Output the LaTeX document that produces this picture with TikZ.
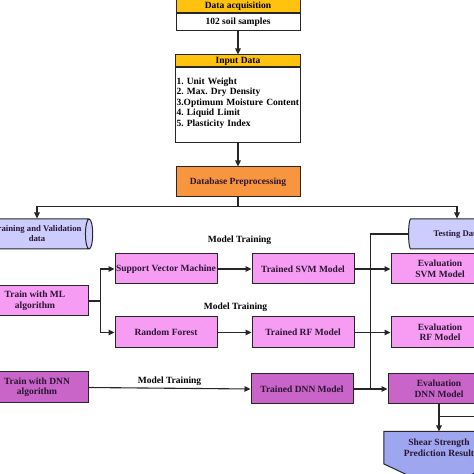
\documentclass[tikz,border=0pt]{standalone}
\usepackage{fontspec}
\setmainfont{Liberation Serif}
\usetikzlibrary{positioning,shapes.geometric,arrows.meta,backgrounds,calc}
\definecolor{headyellow}{HTML}{FFC20E}
\definecolor{preporange}{HTML}{F7963F}
\definecolor{mlpink}{HTML}{F79CF3}
\definecolor{dnnpurple}{HTML}{C964C9}
\definecolor{datalav}{HTML}{CCCCFF}
\definecolor{resblue}{HTML}{9EA6F0}
\definecolor{edge}{HTML}{262626}
\definecolor{ink}{HTML}{2A1632}
\tikzset{box/.style={draw=edge, line width=1pt, minimum width=102pt, minimum height=30pt, align=center, inner sep=1pt},
  headbox/.style={box, fill=headyellow, minimum width=124pt, minimum height=13pt},
  textbox/.style={box, fill=white, minimum width=124pt},
  mlbox/.style={box, fill=mlpink, text=ink},
  dnnbox/.style={box, fill=dnnpurple, text=ink},
  datacyl/.style={cylinder, draw=edge, line width=1pt, cylinder uses custom fill, cylinder body fill=datalav, cylinder end fill=datalav, aspect=0.4, minimum width=30pt, minimum height=100pt, align=center, inner sep=1pt, text=ink, font=\fontsize{8.7}{10}\selectfont\bfseries},
  arr/.style={-{Triangle[length=6pt,width=5.5pt]}, line width=1.1pt, draw=edge},
  conn/.style={line width=1.1pt, draw=edge}}

\begin{document}
\frenchspacing
\begin{tikzpicture}[x=1pt, y=1pt, every node/.style={font=\fontsize{9.5}{10.5}\selectfont\bfseries}]
    \path[use as bounding box, clip] (0,0) rectangle (474,474);
    \node[headbox] (acqhead) at (238,467.5) {Data acquisition};
    \node[textbox, minimum height=17pt, below=0pt of acqhead] (acqbody) {102 soil samples};
    \node[headbox, minimum width=125pt, minimum height=12pt, below=23pt of acqbody] (inhead) {Input Data};
    \node[textbox, minimum width=125pt, minimum height=75pt, text width=123pt, align=left, below=0pt of inhead] (inbody) {1. Unit Weight\\2. Max. Dry Density\\3.Optimum Moisture Content\\4. Liquid Limit\\5. Plasticity Index\\[-3pt]\mbox{}};
    \node[box, fill=preporange, text=ink, minimum width=124pt, below=23pt of inbody] (prep) {Database Preprocessing};
    \node[datacyl, minimum height=106pt] (trainval) at (37,240) {Training and Validation\\data};
    \node[datacyl] (testing) at (457,240) {Testing Data};
    \node[mlbox] (svm) at (166,205) {Support Vector Machine};
    \node[mlbox, right=34pt of svm] (trsvm) {Trained SVM Model};
    \node[mlbox, minimum width=98pt, right=36pt of trsvm] (evsvm) {Evaluation\\SVM Model};
    \node[mlbox, minimum height=31pt, below=32pt of svm] (rf) {Random Forest};
    \node[mlbox, minimum height=31pt, right=34pt of rf] (trrf) {Trained RF Model};
    \node[mlbox, minimum width=98pt, minimum height=31pt, right=36pt of trrf] (evrf) {Evaluation\\RF Model};
    \node[mlbox, minimum width=106pt] (trainml) at (35,173) {Train with ML\\algorithm};
    \node[dnnbox, minimum height=31pt] (traindnn) at (37,86.5) {Train with DNN\\algorithm};
    \node[dnnbox] (trdnn) at (302,85) {Trained DNN Model};
    \node[dnnbox, right=34pt of trdnn] (evdnn) {Evaluation\\DNN Model};
    \node[minimum width=110pt, minimum height=32pt, align=center, text=ink, below=27pt of evdnn] (shear) {Shear Strength\\Prediction Result};
    \begin{scope}[on background layer]
      \draw[draw=edge, line width=1pt, fill=resblue] (shear.north west) -- (shear.north east) -- (shear.south east) -- ([yshift=-26pt]shear.south) -- (shear.south west) -- cycle;
    \end{scope}
    \node (mtsvm) at (239.5,234) {Model Training};
    \node (mtrf) at (235.5,167) {Model Training};
    \node (mtdnn) at (169.5,93) {Model Training};
    \coordinate (bus) at ($(trdnn.east)!0.5!(evdnn.west)$);
    \coordinate (shearjoin) at ($(evdnn.south)!0.45!(shear.north)$);
    \coordinate[right=60pt of shearjoin] (outright);
    \draw[arr] (acqbody) -- (inhead);
    \draw[arr] (inbody) -- (prep);
    \draw[arr] (prep.south) -- ++(0,-9) -| (trainval.north);
    \draw[arr] (prep.south) -- ++(0,-9) -| (testing.north);
    \draw[arr] (trainml.east) -- ++(12,0) |- (svm.west);
    \draw[arr] (trainml.east) -- ++(12,0) |- (rf.west);
    \draw[arr] (traindnn.east) -- (trdnn.west);
    \draw[arr] (svm) -- (trsvm);
    \draw[arr] (rf) -- (trrf);
    \draw[arr] (trsvm) -- (evsvm);
    \draw[arr] (trrf) -- (evrf);
    \draw[arr] (trdnn) -- (evdnn);
    \draw[conn] (testing.west) -| (bus);
    \draw[arr] (evdnn) -- (shear);
    \draw[conn] (shearjoin) -- (outright);
\end{tikzpicture}
\end{document}
